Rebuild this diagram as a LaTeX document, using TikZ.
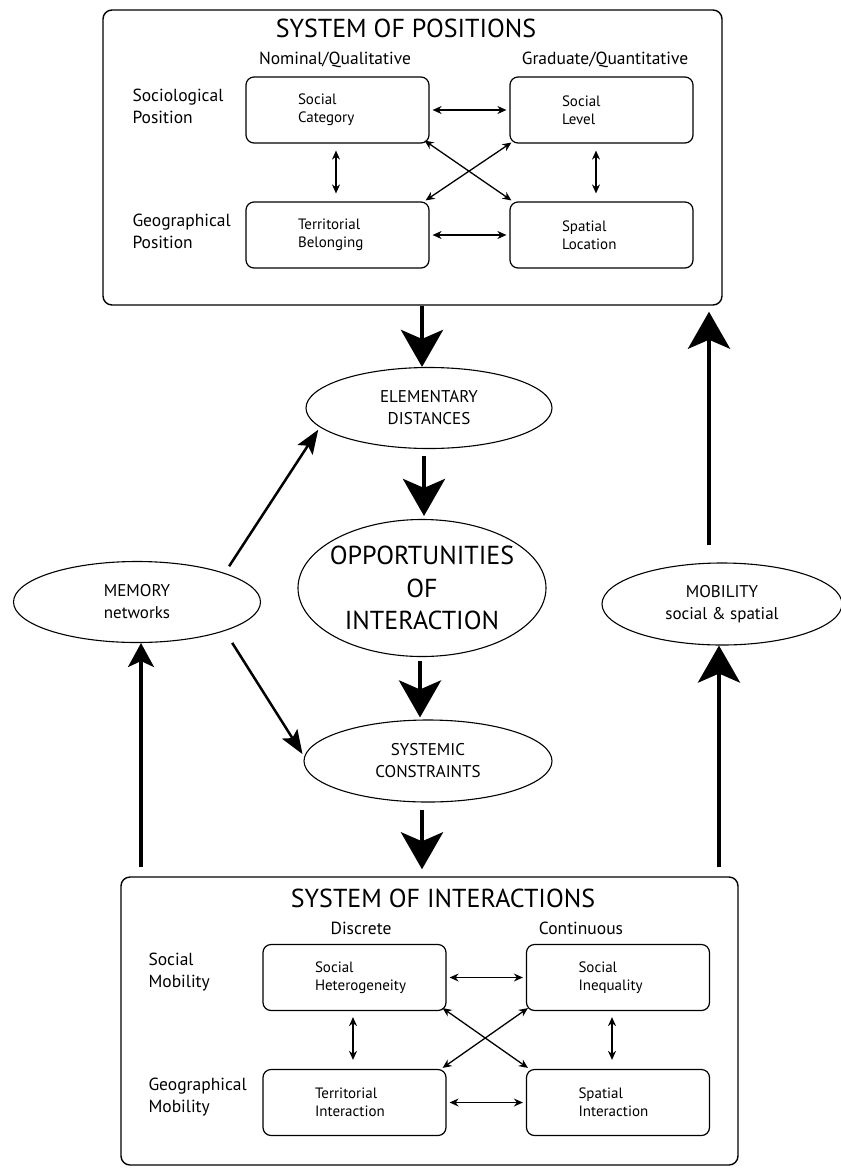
\documentclass[tikz,border=0pt]{standalone}
\usepackage{fontspec}
\setmainfont{PT Sans}
\usetikzlibrary{arrows.meta,shapes.geometric}
\newcommand\ftitle{\fontsize{26}{30}\selectfont}
\newcommand\fhead{\fontsize{17.5}{21}\selectfont}
\newcommand\frow{\fontsize{17.5}{22}\selectfont}
\newcommand\fcell{\fontsize{15}{18}\selectfont}
\newcommand\foval{\fontsize{17}{22}\selectfont}
\newcommand\fopp{\fontsize{26}{32.5}\selectfont}
\hbadness=10000 \hfuzz=100pt
\begin{document}
\begin{tikzpicture}[x=1pt,y=-1pt,
  sysbox/.style={draw, rounded corners=9pt, line width=1.4pt},
  cell/.style={draw, rounded corners=8pt, line width=1.2pt, minimum width=183pt, minimum height=66pt, align=left, text width=79pt, font=\fcell, inner sep=0pt},
  oval/.style={ellipse, draw, line width=1.1pt, align=center, font=\foval, inner sep=0pt},
  rowlab/.style={anchor=west, align=left, font=\frow},
  colhead/.style={font=\fhead},
  twoway/.style={<->, >={Stealth[length=9pt,width=8pt]}, line width=1.3pt, shorten <=3pt, shorten >=3pt},
  bigarrow/.style={-{Stealth[length=37pt,width=42pt,inset=9pt]}, line width=4.5pt},
  midarrow/.style={-{Stealth[length=24pt,width=26pt,inset=6pt]}, line width=3.2pt},
  thinarrow/.style={-{Stealth[length=24pt,width=18pt,inset=5pt]}, line width=2.5pt}
]
\useasboundingbox (0,0) rectangle (841,1168);

% ---- System of positions
\node[sysbox, minimum width=619pt, minimum height=295pt] (tp) at (412.5,157.5) {};
\node[font=\ftitle] (tptitle) at (406,28) {SYSTEM OF POSITIONS};
\node[colhead] (nom) at (335,60) {Nominal/Qualitative};
\node[colhead] (gra) at (605,60) {Graduate/Quantitative};
\node[rowlab] (socpos) at (129,106) {Sociological\\Position};
\node[rowlab] (geopos) at (129,231) {Geographical\\Position};
\node[cell] (sc) at (337.5,110) {Social\\Category};
\node[cell] (sl) at (601.5,110) {Social\\Level};
\node[cell] (tb) at (337.5,235) {Territorial\\Belonging};
\node[cell] (sp) at (601.5,235) {Spatial\\Location};
\draw[twoway] (sc) -- (sl);
\draw[twoway] (tb) -- (sp);
\draw[twoway, shorten <=7pt, shorten >=8pt] ([xshift=-1.5pt]sc.south) -- ([xshift=-1.5pt]tb.north);
\draw[twoway, shorten <=7pt, shorten >=8pt] ([xshift=-5.5pt]sl.south) -- ([xshift=-5.5pt]sp.north);
\draw[twoway, shorten <=0pt, shorten >=0pt] ([shift={(-5,-3)}]sc.south east) -- ([shift={(2,-1)}]sp.north west);
\draw[twoway, shorten <=0pt, shorten >=0pt] ([shift={(2,-1)}]sl.south west) -- ([shift={(-4,-1)}]tb.north east);

% ---- Middle ovals
\node[oval, minimum width=246pt, minimum height=81pt] (ed) at (429,408) {ELEMENTARY\\DISTANCES};
\node[oval, minimum width=248pt, minimum height=137pt,
  label={[font=\fopp, align=center]center:OPPORTUNITIES\\OF\\INTERACTION}] (op) at (422,588) {};
\node[oval, minimum width=248pt, minimum height=82pt] (sy) at (428,761) {SYSTEMIC\\CONSTRAINTS};
\node[oval, minimum width=247pt, minimum height=81pt] (me) at (137,602) {MEMORY\\networks};
\node[oval, minimum width=240pt, minimum height=82pt] (mo) at (722,604) {MOBILITY\\social \& spatial};

% ---- System of interactions
\node[sysbox, minimum width=617pt, minimum height=288pt] (ib) at (429.5,1021) {};
\node[font=\ftitle] (ibtitle) at (443,898) {SYSTEM OF INTERACTIONS};
\node[colhead] (dis) at (361,928) {Discrete};
\node[colhead] (con) at (581,928) {Continuous};
\node[rowlab] (socmob) at (145,972) {Social\\Mobility};
\node[rowlab] (geomob) at (145,1097) {Geographical\\Mobility};
\node[cell] (sh) at (354.5,977.5) {Social\\Heterogeneity};
\node[cell] (si) at (618,977.5) {Social\\Inequality};
\node[cell] (ti) at (354.5,1102.5) {Territorial\\Interaction};
\node[cell] (spi) at (618,1102.5) {Spatial\\Interaction};
\draw[twoway] (sh) -- (si);
\draw[twoway] (ti) -- (spi);
\draw[twoway, shorten <=6pt, shorten >=9pt] ([xshift=-1.5pt]sh.south) -- ([xshift=-1.5pt]ti.north);
\draw[twoway, shorten <=6pt, shorten >=9pt] ([xshift=-6pt]si.south) -- ([xshift=-6pt]spi.north);
\draw[twoway, shorten <=0pt, shorten >=0pt] ([shift={(-4,-3)}]sh.south east) -- ([shift={(2,-1)}]spi.north west);
\draw[twoway, shorten <=0pt, shorten >=0pt] ([shift={(2,-3)}]si.south west) -- ([shift={(-4,-1)}]ti.north east);

% ---- Flow arrows
\draw[bigarrow] (tp.south -| 422,0) -- (ed.north -| 422,0);
\draw[bigarrow, shorten <=7pt, shorten >=3pt] (ed.south -| 424,0) -- (op.north -| 424,0);
\draw[bigarrow, shorten <=4pt, shorten >=2pt] (op.south -| 420,0) -- (sy.north -| 420,0);
\draw[bigarrow, shorten <=7pt, shorten >=7pt] (sy.south -| 422,0) -- (ib.north -| 422,0);
\draw[thinarrow, shorten <=8pt, shorten >=3pt] (me.north east) -- (ed.190);
\draw[thinarrow, shorten <=14pt, shorten >=3pt] (me.south east) -- (sy.178);
\draw[midarrow, shorten <=9pt] (ib.north -| 141,0) -- (me.south -| 141,0);
\draw[bigarrow, shorten <=9pt] (ib.north -| 719,0) -- (mo.south -| 719,0);
\draw[bigarrow, shorten <=17pt, shorten >=6pt] (mo.north -| 709,0) -- (tp.south -| 709,0);
\end{tikzpicture}
\end{document}
